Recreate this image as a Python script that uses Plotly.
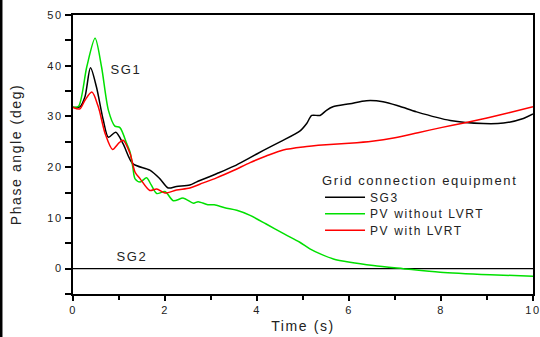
import plotly.graph_objects as go

# SG3 (black)
sg3_t = [0, 0.15, 0.26, 0.38, 0.51, 0.66, 0.77, 0.93, 1.09, 1.3, 1.67, 1.89, 2.07, 2.25, 2.54, 2.69, 3.12, 3.5, 3.85, 4.14, 4.5, 4.93, 5.08, 5.19, 5.37, 5.51, 5.65, 6.02, 6.38, 6.74, 7.1, 7.47, 8.2, 8.92, 9.36, 9.79, 10]
sg3_v = [31.8, 31.9, 33.9, 39.6, 35.8, 29.2, 25.9, 26.9, 24.6, 20.7, 19.4, 17.7, 15.9, 16.2, 16.5, 17.1, 18.7, 20.2, 21.9, 23.3, 25.0, 27.1, 28.6, 30.2, 30.2, 31.2, 31.9, 32.5, 33.1, 32.9, 32.0, 30.9, 29.2, 28.6, 28.7, 29.6, 30.5]

# PV without LVRT (green)
pvn_t = [0, 0.12, 0.3, 0.48, 0.62, 0.77, 0.91, 1.02, 1.17, 1.24, 1.3, 1.35, 1.46, 1.6, 1.7, 1.82, 2.0, 2.18, 2.4, 2.62, 2.72, 2.93, 3.07, 3.3, 3.56, 3.85, 4.2, 4.6, 4.93, 5.15, 5.4, 5.66, 6.02, 6.53, 7.18, 7.98, 9.07, 10]
pvn_v = [31.8, 32.0, 39.8, 45.4, 39.8, 31.2, 28.1, 27.8, 24.6, 23.0, 20.0, 17.7, 17.1, 17.9, 16.5, 14.8, 15.2, 13.4, 13.9, 12.9, 13.2, 12.6, 12.6, 12.0, 11.5, 10.5, 8.8, 6.8, 5.2, 3.9, 2.8, 1.9, 1.25, 0.6, 0.0, -0.7, -1.2, -1.5]

# PV with LVRT (red)
pvl_t = [0, 0.15, 0.26, 0.41, 0.55, 0.7, 0.86, 1.0, 1.09, 1.24, 1.35, 1.46, 1.67, 1.82, 2.0, 2.25, 2.54, 2.83, 3.12, 3.5, 3.85, 4.2, 4.57, 5.0, 5.5, 6.0, 6.5, 7.0, 7.5, 8.0, 8.5, 9.0, 9.5, 10]
pvl_v = [31.8, 31.5, 33.2, 34.8, 31.9, 26.6, 23.5, 24.8, 25.3, 22.7, 19.0, 17.7, 15.4, 15.7, 14.9, 15.5, 15.9, 16.9, 17.9, 19.4, 20.9, 22.2, 23.4, 24.0, 24.4, 24.7, 25.1, 25.8, 26.8, 27.8, 28.7, 29.7, 30.8, 31.9]

# SG2 (zero line)
sg2_t = [0, 10]
sg2_v = [0, 0]

FONT = "Liberation Sans, Arial, sans-serif"
TXT = "#222"

fig = go.Figure()
fig.add_trace(go.Scatter(x=sg2_t, y=sg2_v, mode="lines", line=dict(color="black", width=1.2), showlegend=False, hoverinfo="skip"))
fig.add_trace(go.Scatter(x=sg3_t, y=sg3_v, mode="lines", name="SG3", line=dict(color="black", width=1.5, shape="spline", smoothing=0.8)))
fig.add_trace(go.Scatter(x=pvn_t, y=pvn_v, mode="lines", name="PV without LVRT", line=dict(color="#00e000", width=1.5, shape="spline", smoothing=0.8)))
fig.add_trace(go.Scatter(x=pvl_t, y=pvl_v, mode="lines", name="PV with LVRT", line=dict(color="#ff0000", width=1.5, shape="spline", smoothing=0.8)))

fig.add_annotation(x=0.82, y=39.3, text="SG1", showarrow=False, xanchor="left", font=dict(family=FONT, size=13, color=TXT))
fig.add_annotation(x=0.95, y=2.3, text="SG2", showarrow=False, xanchor="left", font=dict(family=FONT, size=13, color=TXT))

# left border of the image
fig.add_shape(type="rect", xref="paper", yref="paper", x0=-0.1587, x1=-0.1533, y0=-0.16, y1=1.06,
              fillcolor="black", line=dict(width=0), layer="above")

fig.update_layout(
    width=540, height=337,
    margin=dict(l=73, r=7, t=15, b=43, autoexpand=False),
    paper_bgcolor="white", plot_bgcolor="white",
    font=dict(family=FONT, size=11, color=TXT),
    legend=dict(
        title=dict(text="Grid connection equipment", side="top", font=dict(family=FONT, size=13, color=TXT)),
        x=0.537, y=0.452, xanchor="left", yanchor="top",
        bgcolor="rgba(0,0,0,0)", font=dict(family=FONT, size=12, color=TXT),
        tracegroupgap=0, itemwidth=40,
    ),
    xaxis=dict(
        range=[0, 10], dtick=2, tick0=0, showgrid=False, zeroline=False, automargin=False,
        showline=True, linecolor="black", linewidth=2, mirror=True,
        ticks="outside", ticklen=5, tickwidth=1.5, tickcolor="black",
        minor=dict(dtick=1, ticks="outside", ticklen=4, tickwidth=1.5, tickcolor="black"),
        tickfont=dict(family=FONT, size=11, color=TXT),
        title=dict(text="Time (s)", font=dict(family=FONT, size=14, color=TXT), standoff=6),
    ),
    yaxis=dict(
        range=[-5, 50], dtick=10, tick0=0, showgrid=False, zeroline=False, automargin=False,
        showline=True, linecolor="black", linewidth=2, mirror=True,
        ticks="outside", ticklen=6, tickwidth=1.5, tickcolor="black",
        minor=dict(dtick=5, ticks="outside", ticklen=6, tickwidth=1.5, tickcolor="black"),
        tickfont=dict(family=FONT, size=11, color=TXT),
        title=dict(text="Phase angle (deg)", font=dict(family=FONT, size=14, color=TXT), standoff=26),
    ),
)

post_js = (
    "document.body.style.margin='0';"
    "var gd=document.getElementById('{plot_id}');"
    "gd.querySelectorAll('text').forEach(function(t){t.style.letterSpacing='1.6px';});"
    "gd.querySelectorAll('.legend [clip-path], .legend .scrollbox').forEach(function(e){e.removeAttribute('clip-path');});"
    "var tr=gd.querySelectorAll('.legend .traces');"
    "if(tr.length){var m=/translate\\(([-\\d.]+)[ ,]+([-\\d.]+)\\)/.exec(tr[0].getAttribute('transform')||'');"
    "if(m){var x0=parseFloat(m[1]),y0=parseFloat(m[2])-2;"
    "tr.forEach(function(e,i){e.setAttribute('transform','translate('+x0+','+(y0+i*16.5)+')');});}}"
)
fig.write_html("out.html", post_script=post_js, config={"displayModeBar": False})
